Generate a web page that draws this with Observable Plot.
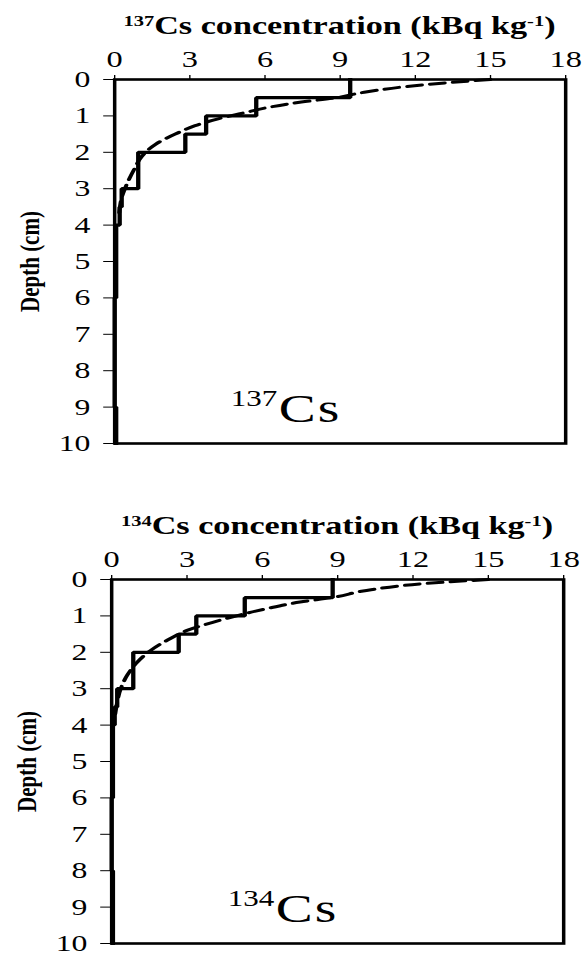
<!DOCTYPE html>
<html>
<head>
<meta charset="utf-8">
<script src="https://cdn.jsdelivr.net/npm/d3@7"></script>
<script src="https://cdn.jsdelivr.net/npm/@observablehq/plot@0.6"></script>
<style>
  body { margin: 0; background: #fff; }
  #root { position: relative; width: 582px; height: 955px; overflow: hidden; background: #fff; }
  .block { position: absolute; left: 0; width: 431px; transform-origin: 0 0; }
  .title { font-family: "Liberation Serif", "Times New Roman", serif; font-weight: bold; font-size: 25.3px;
           height: 40px; line-height: 30px; padding-top: 10px; box-sizing: border-box; text-align: center; white-space: nowrap; color: #000; }
  .title sup { font-size: 60%; line-height: 0; vertical-align: 0.55em; }
  svg { display: block; }
  g[aria-label^="x-axis"] text { font-size: 24px; }
  g[aria-label^="y-axis"] text { font-size: 23.5px; }
  .cslab text { letter-spacing: 1.5px; }
</style>
</head>
<body>
<div id="root"></div>
<script>
// ---- data ----
const xTicks = [0, 3, 6, 9, 12, 15, 18];
const yTicks = [0, 1, 2, 3, 4, 5, 6, 7, 8, 9, 10];

// 137Cs measured layers (depth edges in cm, concentration kBq/kg)
const cs137Edges = [0, 0.5, 1, 1.5, 2, 3, 3.5, 4, 6, 9, 10];
const cs137Values = [9.4, 5.65, 3.65, 2.82, 0.94, 0.28, 0.2, 0.06, 0, 0.06];
// 137Cs fitted profile (dashed)
const cs137FitDepth = [0, 0.14, 0.35, 0.51, 0.62, 0.75, 0.91, 1.08, 1.27, 1.5, 1.78, 2.1, 2.48, 2.85, 3.2, 3.75];
const cs137FitValue = [15, 12.4, 9.96, 8.77, 7.45, 6.26, 5.2, 4.13, 3.21, 2.42, 1.63, 1.1, 0.77, 0.5, 0.3, 0.17];

// 134Cs measured layers
const cs134Edges = [0, 0.5, 1, 1.5, 2, 3, 3.5, 4, 6, 8, 10];
const cs134Values = [8.8, 5.3, 3.37, 2.67, 0.86, 0.22, 0.12, 0.05, 0, 0.05];
// 134Cs fitted profile (dashed)
const cs134FitDepth = [0, 0.11, 0.3, 0.49, 0.62, 0.8, 0.97, 1.17, 1.4, 1.67, 1.95, 2.27, 2.63, 3.0, 3.45, 3.8];
const cs134FitValue = [15, 12.5, 10.15, 8.83, 7.5, 6.18, 5.12, 4.06, 3.0, 2.21, 1.55, 1.02, 0.62, 0.36, 0.2, 0.12];

const W = 431;            // unscaled svg width
const S = 582 / W;        // horizontal stretch of the original figure

function chart({edges, values, fitD, fitV, iso, mL, mR, height, mB}) {
  const stepPts = values.flatMap((v, i) => [{x: v, y: edges[i]}, {x: v, y: edges[i + 1]}]);
  const fit = fitD.map((d, i) => ({x: fitV[i], y: d}));
  return Plot.plot({
    width: W, height, marginTop: 39, marginBottom: mB, marginLeft: mL, marginRight: mR,
    style: {fontFamily: '"Liberation Serif", "Times New Roman", serif', fontSize: "23px", color: "#000", background: "#fff", overflow: "visible"},
    x: {domain: [0, 18], ticks: xTicks, axis: "top", label: null, tickSize: 5, tickPadding: 8},
    y: {domain: [0, 10], reverse: true, ticks: yTicks, label: null, tickSize: 8, tickPadding: 10},
    marks: [
      Plot.line(fit, {x: "x", y: "y", curve: "monotone-y", stroke: "#000", strokeWidth: 3, strokeDasharray: "11,6"}),
      Plot.line(stepPts, {x: "x", y: "y", stroke: "#000", strokeWidth: 3.2, strokeLinejoin: "miter", strokeLinecap: "square"}),
      Plot.frame({stroke: "#000", strokeWidth: 2.6}),
      Plot.text(["Depth (cm)"], {frameAnchor: "left", text: d => d, rotate: -90, dx: -63, textAnchor: "middle", lineAnchor: "middle", fontWeight: "bold", fontSize: 21}),
      Plot.text([iso], {frameAnchor: "bottom-left", text: d => d, dx: 86, dy: -38, textAnchor: "start", lineAnchor: "bottom", fontSize: 23}),
      Plot.text(["Cs"], {frameAnchor: "bottom-left", text: d => d, dx: 121.5, dy: -22, textAnchor: "start", lineAnchor: "bottom", fontSize: 41, className: "cslab"})
    ]
  });
}

function block(top, iso, opts) {
  const div = document.createElement("div");
  div.className = "block";
  div.style.top = top + "px";
  div.style.transform = `scaleX(${S})`;
  const t = document.createElement("div");
  t.className = "title";
  t.style.paddingLeft = opts.mL + "px";
  t.style.paddingRight = opts.mR + "px";
  t.innerHTML = `<sup>${iso}</sup>Cs concentration (kBq kg<sup>-1</sup>)`;
  div.appendChild(t);
  div.appendChild(chart({...opts, iso}));
  document.getElementById("root").appendChild(div);
}

block(0, "137", {edges: cs137Edges, values: cs137Values, fitD: cs137FitDepth, fitV: cs137FitValue,
  mL: 114 / S, mR: 17 / S, height: 433, mB: 30});
block(500, "134", {edges: cs134Edges, values: cs134Values, fitD: cs134FitDepth, fitV: cs134FitValue,
  mL: 111 / S, mR: 19 / S, height: 415, mB: 12});
</script>
</body>
</html>
